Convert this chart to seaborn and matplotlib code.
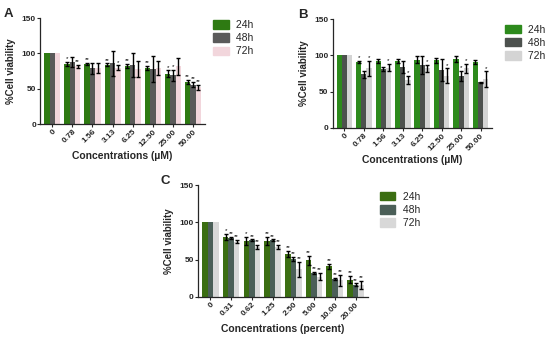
import pandas as pd
import numpy as np
import matplotlib
matplotlib.use("Agg")
import matplotlib.pyplot as plt
import seaborn as sns

sns.set_style("ticks")
plt.rcParams['font.family'] = ['Liberation Sans', 'DejaVu Sans']

times = ['24h', '48h', '72h']

# panel A
conc_a = ['0', '0.78', '1.56', '3.13', '6.25', '12.50', '25.00', '50.00']
a_24 = [100, 85, 85, 84, 82, 79, 71, 60]
a_48 = [100, 88, 79, 86, 83, 78, 69, 56]
a_72 = [100, 82, 79, 80, 78, 80, 82, 52]
a_24_sd = [0, 3, 2, 2, 3, 3, 5, 3]
a_48_sd = [0, 7, 8, 18, 17, 18, 8, 4]
a_72_sd = [0, 2, 7, 3, 12, 10, 12, 4]
a_24_sig = ['', '*', '**', '**', '**', '**', '*', '**']
a_48_sig = ['', '', '', '', '', '', '*', '**']
a_72_sig = ['', '**', '', '*', '', '', '', '**']

# panel B
conc_b = ['0', '0.78', '1.56', '3.13', '6.25', '12.50', '25.00', '50.00']
b_24 = [100, 91, 92, 92, 94, 93, 95, 91]
b_48 = [100, 74, 81, 84, 87, 80, 72, 63]
b_72 = [100, 82, 83, 66, 82, 72, 82, 67]
b_24_sd = [0, 1, 3, 3, 5, 3, 4, 3]
b_48_sd = [0, 5, 3, 8, 12, 15, 7, 1]
b_72_sd = [0, 10, 5, 6, 5, 10, 6, 11]
b_24_sig = ['', '*', '', '', '', '', '', '']
b_48_sig = ['', '', '', '', '', '', '*', '']
b_72_sig = ['', '*', '*', '*', '*', '*', '*', '*']

# panel C
conc_c = ['0', '0.31', '0.62', '1.25', '2.50', '5.00', '10.00', '20.00']
c_24 = [100, 80, 75, 75, 58, 49, 41, 23]
c_48 = [100, 79, 76, 76, 51, 32, 24, 16]
c_72 = [100, 74, 67, 67, 37, 27, 22, 16]
c_24_sd = [0, 4, 5, 5, 4, 6, 3, 5]
c_48_sd = [0, 1, 1, 1, 3, 2, 1, 2]
c_72_sd = [0, 2, 3, 3, 10, 5, 7, 5]
c_24_sig = ['', '*', '*', '**', '**', '**', '**', '**']
c_48_sig = ['', '**', '**', '**', '**', '**', '**', '**']
c_72_sig = ['', '**', '**', '**', '**', '**', '**', '**']


def panel(ax, conc, vals, sds, sigs, colors, letter, xlabel, leg_pos):
    df = pd.DataFrame({
        'Concentration': conc * 3,
        'Viability': vals[0] + vals[1] + vals[2],
        'Time': [t for t in times for _ in conc],
    })
    sns.barplot(data=df, x='Concentration', y='Viability', hue='Time',
                palette=colors, errorbar=None, width=0.8, saturation=1,
                linewidth=0, ax=ax, legend=False)
    for cont, sd, sig in zip(ax.containers, sds, sigs):
        for bar, s, st in zip(cont, sd, sig):
            xc = bar.get_x() + bar.get_width() / 2
            h = bar.get_height()
            if s > 0:
                ax.errorbar(xc, h, yerr=s, color='black', lw=1.0,
                            capsize=1.3, capthick=1.0)
            if st:
                ax.text(xc, h + s + 1, st, ha='center', va='bottom',
                        fontsize=4.5, color='black')
    ax.set_ylim(0, 150)
    ax.set_yticks([0, 50, 100, 150])
    ax.set_xlim(-0.6, len(conc) - 0.4)
    ax.set_ylabel('%Cell viability', fontsize=7, fontweight='bold')
    ax.set_xlabel(xlabel, fontsize=7.5, fontweight='bold', labelpad=2)
    ax.tick_params(axis='both', labelsize=6, length=2, width=0.8, pad=1)
    for lab in ax.get_xticklabels() + ax.get_yticklabels():
        lab.set_fontweight('bold')
    plt.setp(ax.get_xticklabels(), rotation=45, ha='right', rotation_mode='anchor')
    for sp in ['top', 'right']:
        ax.spines[sp].set_visible(False)
    for sp in ['left', 'bottom']:
        ax.spines[sp].set_linewidth(0.9)
    handles = [plt.Rectangle((0, 0), 1, 1, color=c) for c in colors]
    ax.legend(handles, [' ' + t for t in times], frameon=False, fontsize=7.5,
              loc='upper left', bbox_to_anchor=leg_pos, borderaxespad=0,
              borderpad=0, handlelength=1.5, handleheight=0.9,
              labelspacing=0.3, handletextpad=0.4)
    ax.text(-0.22, 1.04, letter, transform=ax.transAxes, fontsize=9.5,
            fontweight='bold', ha='left', va='center')


fig = plt.figure(figsize=(5.5, 3.42), dpi=100)
ax_a = fig.add_axes([0.073, 0.637, 0.30, 0.31])
ax_b = fig.add_axes([0.605, 0.626, 0.29, 0.318])
ax_c = fig.add_axes([0.36, 0.132, 0.309, 0.327])

panel(ax_a, conc_a, [a_24, a_48, a_72], [a_24_sd, a_48_sd, a_72_sd],
      [a_24_sig, a_48_sig, a_72_sig], ['#2e7a12', '#5a5a5a', '#f2d6dc'],
      'A', 'Concentrations (µM)', (1.05, 0.98))
panel(ax_b, conc_b, [b_24, b_48, b_72], [b_24_sd, b_48_sd, b_72_sd],
      [b_24_sig, b_48_sig, b_72_sig], ['#2d8a1c', '#4d514e', '#d4d4d4'],
      'B', 'Concentrations (µM)', (1.08, 0.95))
panel(ax_c, conc_c, [c_24, c_48, c_72], [c_24_sd, c_48_sd, c_72_sd],
      [c_24_sig, c_48_sig, c_72_sig], ['#3b6e12', '#4b5f58', '#d8d8d8'],
      'C', 'Concentrations (percent)', (1.07, 0.94))

plt.savefig('out.png', dpi=100)
